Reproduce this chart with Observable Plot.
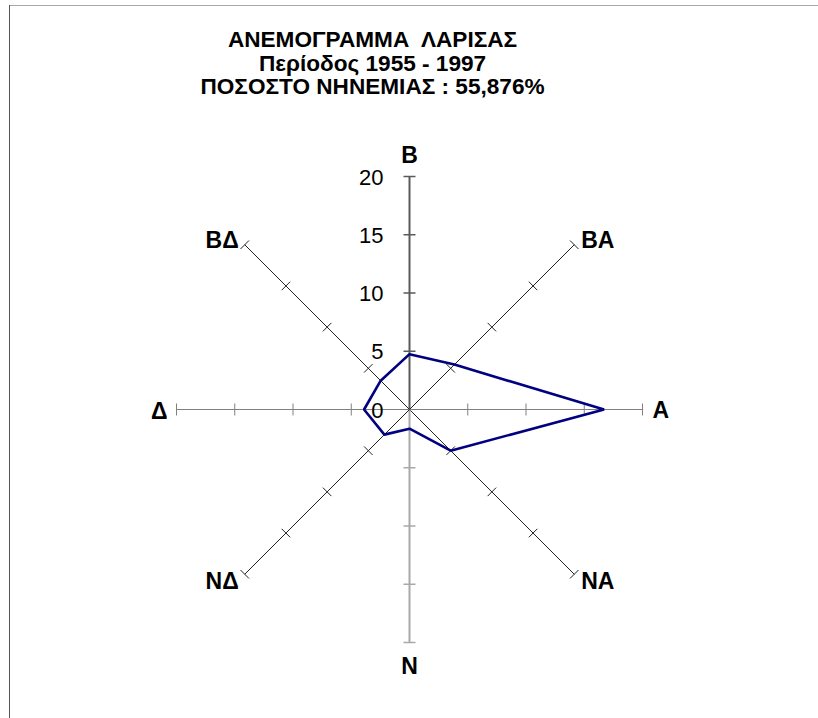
<!DOCTYPE html>
<html><head><meta charset="utf-8">
<script src="https://cdn.jsdelivr.net/npm/d3@7"></script>
<script src="https://cdn.jsdelivr.net/npm/@observablehq/plot@0.6"></script>
<style>body{margin:0;background:#fff} svg{display:block}</style>
</head><body><div id="chart"></div>
<script>
// ---- data ----
const directions = ["Β", "ΒΑ", "Α", "ΝΑ", "Ν", "ΝΔ", "Δ", "ΒΔ"];
const frequencies = [4.75, 5.45, 16.7, 5.0, 1.65, 3.05, 3.9, 3.5];
const tickValues = [5, 10, 15, 20];
const labelValues = [0, 5, 10, 15, 20];
const tickLabels = ["0", "5", "10", "15", "20"];
const titleLines = ["ΑΝΕΜΟΓΡΑΜΜΑ  ΛΑΡΙΣΑΣ", "Περίοδος 1955 - 1997", "ΠΟΣΟΣΤΟ ΝΗΝΕΜΙΑΣ : 55,876%"];
const rMax = 20;

// ---- layout ----
const W = 818, H = 718, cx = 409, cy = 409, k = 11.65;
const font = "Liberation Sans, Arial, Helvetica, sans-serif";
const ang = i => Math.PI / 2 - i * Math.PI / 4;
const px = (r, i) => r * Math.cos(ang(i));
const py = (r, i) => r * Math.sin(ang(i));

const spokeStyle = i => i === 0 ? {stroke: "#5a5a5a", w: 2}
  : i === 4 ? {stroke: "#a8a8a8", w: 2}
  : (i === 2 || i === 6) ? {stroke: "#808080", w: 1}
  : {stroke: "#222", w: 1};

const poly = directions.map((d, i) => ({d, x: px(frequencies[i], i), y: py(frequencies[i], i)}));
const spokes = directions.map((d, i) => ({i, x1: 0, y1: 0, x2: px(rMax, i), y2: py(rMax, i)}));
const h = 6 / k;
const ticks = [];
directions.forEach((d, i) => {
  const t = ang(i), nx = -Math.sin(t), ny = Math.cos(t);
  tickValues.forEach(v => {
    const x = px(v, i), y = py(v, i);
    ticks.push({i, x1: x - h * nx, y1: y - h * ny, x2: x + h * nx, y2: y + h * ny});
  });
});

const marks = [];
directions.forEach((d, i) => {
  const s = spokeStyle(i);
  marks.push(Plot.link(spokes.filter(o => o.i === i), {x1: "x1", y1: "y1", x2: "x2", y2: "y2", stroke: s.stroke, strokeWidth: s.w}));
  marks.push(Plot.link(ticks.filter(o => o.i === i), {x1: "x1", y1: "y1", x2: "x2", y2: "y2", stroke: s.stroke, strokeWidth: s.w === 2 ? 1.5 : 1}));
});

marks.push(Plot.line(poly, {x: "x", y: "y", curve: "linear-closed", stroke: "#000080", strokeWidth: 2.6, strokeLinejoin: "miter"}));

// value-axis tick labels
marks.push(Plot.text(labelValues.map((v, j) => ({v, t: tickLabels[j]})), {
  x: () => 0, y: "v", text: "t", textAnchor: "end", lineAnchor: "middle",
  dx: -26, dy: 1, fontSize: 22, fill: "#000"
}));

// direction labels
function placement(i) {
  const c = Math.cos(ang(i)), s = Math.sin(ang(i));
  if (Math.abs(c) < 0.1) return s > 0 ? {ta: "middle", la: "bottom", dx: 0, dy: -14} : {ta: "middle", la: "top", dx: 0, dy: 15};
  if (Math.abs(s) < 0.1) return c > 0 ? {ta: "start", la: "middle", dx: 10, dy: 1} : {ta: "end", la: "middle", dx: -9, dy: 2};
  const ta = c > 0 ? "start" : "end";
  const dx = c > 0 ? 7 : -6;
  return s > 0 ? {ta, la: "bottom", dx, dy: 3} : {ta, la: "top", dx, dy: -2};
}
directions.forEach((d, i) => {
  const p = placement(i);
  marks.push(Plot.text([{d, x: px(rMax, i), y: py(rMax, i)}], {
    x: "x", y: "y", text: "d", textAnchor: p.ta, lineAnchor: p.la, dx: p.dx, dy: p.dy,
    fontSize: 23, fontWeight: "bold", fill: "#000"
  }));
});

// title
const titleDy = [30.5, 54, 77.5];
titleLines.forEach((t, j) => {
  marks.push(Plot.text([t], {
    text: d => d, frameAnchor: "top", lineAnchor: "top", dx: -37, dy: titleDy[j],
    fontSize: 22.6, fontWeight: "bold", fill: "#000"
  }));
});

// chart area border (top and left edges)
marks.push(Plot.frame({anchor: "top", insetTop: 5, insetLeft: 9, stroke: "#a8a8a8"}));
marks.push(Plot.frame({anchor: "left", insetTop: 5, insetLeft: 9, stroke: "#555"}));

const chart = Plot.plot({
  width: W, height: H, margin: 0,
  x: {type: "linear", domain: [-cx / k, (W - cx) / k], axis: null},
  y: {type: "linear", domain: [-(H - cy) / k, cy / k], axis: null},
  style: {fontFamily: font, background: "#fff", overflow: "visible"},
  marks
});
document.getElementById("chart").appendChild(chart);
</script>
</body></html>
